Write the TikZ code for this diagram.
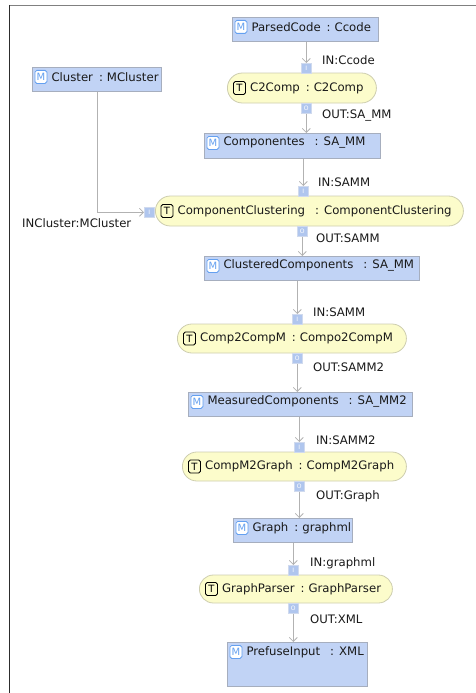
\documentclass[tikz,border=0pt]{standalone}
\usepackage{fontspec}
\setmainfont{DejaVu Sans}
\usetikzlibrary{arrows.meta,shapes.misc}

\definecolor{boxfill}{RGB}{193,211,245}
\definecolor{boxline}{RGB}{166,174,190}
\definecolor{ellfill}{RGB}{252,252,203}
\definecolor{ellline}{RGB}{205,205,175}
\definecolor{iconblue}{RGB}{100,160,240}
\definecolor{portfill}{RGB}{176,198,238}
\definecolor{portline}{RGB}{208,218,238}
\definecolor{linecol}{RGB}{178,178,178}
\definecolor{textcol}{RGB}{25,25,25}
\definecolor{framegray}{RGB}{128,128,128}
\definecolor{framedark}{RGB}{45,45,45}

% separators between instance name and type
\newcommand\csep{\hspace{6pt}:\hspace{4pt}}
\newcommand\wsep{\hspace{10pt}:\hspace{5pt}}

\tikzset{
  mbox/.style={draw=boxline, fill=boxfill, line width=0.8pt, anchor=north west, inner sep=0pt},
  tbox/.style={rounded rectangle, draw=ellline, fill=ellfill, line width=0.8pt, anchor=west, inner sep=0pt},
  micon/.style={draw=iconblue, fill=white, rounded corners=1.8pt, line width=0.8pt,
    minimum width=12pt, minimum height=13pt, inner sep=0pt, text=iconblue,
    font=\fontsize{10}{10}\selectfont, anchor=north west},
  ticon/.style={draw=black, rounded corners=1.8pt, line width=0.9pt,
    minimum width=12pt, minimum height=13pt, inner sep=0pt, text=black,
    font=\fontsize{10}{10}\selectfont, anchor=west},
  txt/.style={font=\fontsize{11.7}{14}\selectfont, inner sep=0pt, anchor=west, text=textcol},
  port/.style={draw=portline, fill=portfill, line width=0.6pt, minimum width=10pt, minimum height=10pt,
    inner sep=0pt, anchor=north west, text=white, font=\fontsize{6}{6}\selectfont},
  conn/.style={draw=linecol, line width=0.8pt, -{Straight Barb[length=4pt,width=8pt]}},
}

\begin{document}
\begin{tikzpicture}[x=1pt, y=-1pt]
\useasboundingbox (0,0) rectangle (476,693);

% window frame
\draw[framegray, line width=1.6pt] (9,5.5) -- (476,5.5);
\draw[framedark, line width=1.6pt] (9.5,5) -- (9.5,693);

% ---- model boxes ----
\node[mbox, minimum width=146pt, minimum height=24pt] (pc) at (232,17) {};
\node[micon] (pc-ic) at ([shift={(2.5,3)}]pc.north west) {M};
\node[txt] (pc-t) at ([xshift=4pt]pc-ic.east) {ParsedCode\csep Ccode};

\node[mbox, minimum width=129pt, minimum height=24pt] (cl) at (32,67) {};
\node[micon] (cl-ic) at ([shift={(2.5,3)}]cl.north west) {M};
\node[txt] (cl-t) at ([xshift=4pt]cl-ic.east) {Cluster\csep MCluster};

\node[mbox, minimum width=176pt, minimum height=25pt] (comp) at (204,133) {};
\node[micon] (comp-ic) at ([shift={(2.5,3)}]comp.north west) {M};
\node[txt] (comp-t) at ([xshift=4pt]comp-ic.east) {Componentes\wsep SA\_MM};

\node[mbox, minimum width=215pt, minimum height=24pt] (clc) at (204,256) {};
\node[micon] (clc-ic) at ([shift={(2.5,3)}]clc.north west) {M};
\node[txt] (clc-t) at ([xshift=4pt]clc-ic.east) {ClusteredComponents\wsep SA\_MM};

\node[mbox, minimum width=224pt, minimum height=24pt] (mc) at (188,392) {};
\node[micon] (mc-ic) at ([shift={(2.5,3)}]mc.north west) {M};
\node[txt] (mc-t) at ([xshift=4pt]mc-ic.east) {MeasuredComponents\wsep SA\_MM2};

\node[mbox, minimum width=119pt, minimum height=24pt] (gr) at (233,518) {};
\node[micon] (gr-ic) at ([shift={(2.5,3)}]gr.north west) {M};
\node[txt] (gr-t) at ([xshift=4pt]gr-ic.east) {Graph\csep graphml};

\node[mbox, minimum width=140pt, minimum height=44pt] (pf) at (227,642) {};
\node[micon] (pf-ic) at ([shift={(2.5,3)}]pf.north west) {M};
\node[txt] (pf-t) at ([xshift=4pt]pf-ic.east) {PrefuseInput\wsep XML};

% ---- transformations (placed by their left end) ----
\node[tbox, minimum width=149pt, minimum height=30pt] (c2) at (227,88) {};
\node[ticon] (c2-ic) at ([xshift=6pt]c2.west) {T};
\node[txt] (c2-t) at ([xshift=4pt]c2-ic.east) {C2Comp\csep C2Comp};

\node[tbox, minimum width=308pt, minimum height=30pt] (cc) at (155,211) {};
\node[ticon] (cc-ic) at ([xshift=5.5pt]cc.west) {T};
\node[txt] (cc-t) at ([xshift=4pt]cc-ic.east) {ComponentClustering\wsep ComponentClustering};

\node[tbox, minimum width=229pt, minimum height=29pt] (cm) at (177,338.5) {};
\node[ticon] (cm-ic) at ([xshift=6pt]cm.west) {T};
\node[txt] (cm-t) at ([xshift=4pt]cm-ic.east) {Comp2CompM\csep Compo2CompM};

\node[tbox, minimum width=224pt, minimum height=29pt] (mg) at (182,466.5) {};
\node[ticon] (mg-ic) at ([xshift=6pt]mg.west) {T};
\node[txt] (mg-t) at ([xshift=4pt]mg-ic.east) {CompM2Graph\csep CompM2Graph};

\node[tbox, minimum width=193pt, minimum height=28pt] (gp) at (199,589) {};
\node[ticon] (gp-ic) at ([xshift=6pt]gp.west) {T};
\node[txt] (gp-t) at ([xshift=4pt]gp-ic.east) {GraphParser\csep GraphParser};

% ---- ports ----
\node[port] (c2-in)  at (301,63)  {I};
\node[port] (c2-out) at (301,103) {O};
\node[port] (cc-in)  at (298,186) {I};
\node[port] (cc-lf)  at (144,207) {I};
\node[port] (cc-out) at (297,226) {O};
\node[port] (cm-in)  at (292,314) {I};
\node[port] (cm-out) at (292,353) {O};
\node[port] (mg-in)  at (294,442) {I};
\node[port] (mg-out) at (294,481) {O};
\node[port] (gp-in)  at (288,565) {I};
\node[port] (gp-out) at (288,603) {O};

% ---- connectors ----
\draw[conn] (pc.south -| c2-in) -- (c2-in.north);
\draw[conn] (c2-out.south) -- (c2-out.south |- comp.north);
\draw[conn] (comp.south -| cc-in) -- (cc-in.north);
\draw[conn] (cl.south) |- (cc-lf.west);
\draw[conn] (cc-out.south) -- (cc-out.south |- clc.north);
\draw[conn] (clc.south -| cm-in) -- (cm-in.north);
\draw[conn] (cm-out.south) -- (cm-out.south |- mc.north);
\draw[conn] (mc.south -| mg-in) -- (mg-in.north);
\draw[conn] (mg-out.south) -- (mg-out.south |- gr.north);
\draw[conn] (gr.south -| gp-in) -- (gp-in.north);
\draw[conn] (gp-out.south) -- (gp-out.south |- pf.north);

% ---- port labels ----
\node[txt] (l1)  at (322,60)  {IN:Ccode};
\node[txt] (l2)  at (322,116) {OUT:SA\_MM};
\node[txt] (l3)  at (318,182) {IN:SAMM};
\node[txt] (l4)  at (22,223)  {INCluster:MCluster};
\node[txt] (l5)  at (316,238) {OUT:SAMM};
\node[txt] (l6)  at (313,312) {IN:SAMM};
\node[txt] (l7)  at (313,367) {OUT:SAMM2};
\node[txt] (l8)  at (316,440) {IN:SAMM2};
\node[txt] (l9)  at (316,496) {OUT:Graph};
\node[txt] (l10) at (310,563) {IN:graphml};
\node[txt] (l11) at (310,619) {OUT:XML};
\end{tikzpicture}
\end{document}
